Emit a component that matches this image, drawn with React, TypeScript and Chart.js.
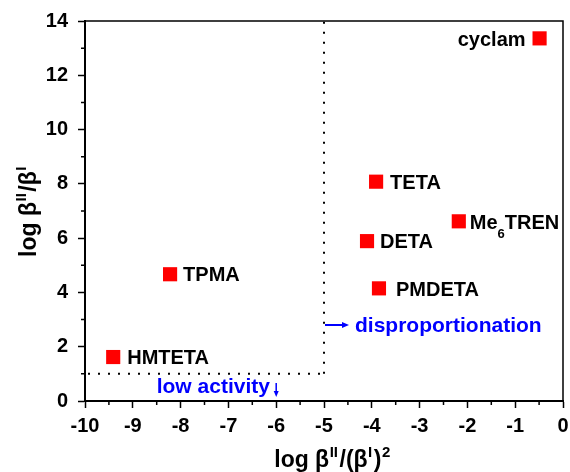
import React, { useEffect, useRef } from 'react';
import { Chart, registerables } from 'chart.js';

Chart.register(...registerables);

// ---- data ----
const ligands = ['cyclam', 'TETA', 'Me6TREN', 'DETA', 'PMDETA', 'TPMA', 'HMTETA'];
const logBetaRatioSq = [-0.49, -3.91, -2.18, -4.1, -3.85, -8.22, -9.41]; // log βII/(βI)^2
const logBetaRatio = [13.36, 8.08, 6.62, 5.89, 4.15, 4.67, 1.62]; // log βII/βI
const labelSide = ['left', 'right', 'right', 'right', 'right', 'right', 'right'];
const labelGap = [14, 14, 11, 13, 17, 13, 14];

const xMin = -10;
const xMax = 0;
const yMin = 0;
const yMax = 14;
const xStep = 1;
const yStep = 2;

const boundaryX = -5; // disproportionation boundary
const boundaryY = 1; // low activity boundary

const FONT = '"Liberation Sans", Arial, Helvetica, sans-serif';

type Piece = { t: string; size: number; dy: number; gap?: number };

function formulaPieces(name: string, size: number): Piece[] {
  const out: Piece[] = [];
  const re = /(\d+)|(\D+)/g;
  let m: RegExpExecArray | null;
  while ((m = re.exec(name))) {
    if (m[1]) out.push({ t: m[1], size: Math.round(size * 0.65), dy: 9 });
    else out.push({ t: m[2], size, dy: 0 });
  }
  return out;
}

function piecesWidth(ctx: CanvasRenderingContext2D, pieces: Piece[]) {
  let w = 0;
  for (const p of pieces) {
    ctx.font = `bold ${p.size}px ${FONT}`;
    w += ctx.measureText(p.t).width + (p.gap || 0);
  }
  return w;
}

function drawPieces(ctx: CanvasRenderingContext2D, pieces: Piece[], x: number, y: number) {
  let cx = x;
  ctx.textAlign = 'left';
  ctx.textBaseline = 'alphabetic';
  for (const p of pieces) {
    ctx.font = `bold ${p.size}px ${FONT}`;
    ctx.fillText(p.t, cx, y + p.dy);
    cx += ctx.measureText(p.t).width + (p.gap || 0);
  }
}

const decorPlugin = {
  id: 'decor',
  afterDraw(chart: any) {
    const { ctx, chartArea: ca, scales } = chart;
    const xs = scales.x;
    const ys = scales.y;
    ctx.save();

    // frame top / right
    ctx.strokeStyle = '#000';
    ctx.lineWidth = 1.5;
    ctx.beginPath();
    ctx.moveTo(ca.left, ca.top);
    ctx.lineTo(ca.right, ca.top);
    ctx.lineTo(ca.right, ca.bottom);
    ctx.stroke();

    // minor ticks
    ctx.lineWidth = 1.5;
    ctx.beginPath();
    for (let v = xMin + xStep / 2; v < xMax; v += xStep) {
      const px = xs.getPixelForValue(v);
      ctx.moveTo(px, ca.bottom);
      ctx.lineTo(px, ca.bottom + 4);
    }
    for (let v = yMin + yStep / 2; v < yMax; v += yStep) {
      const py = ys.getPixelForValue(v);
      ctx.moveTo(ca.left, py);
      ctx.lineTo(ca.left - 4, py);
    }
    ctx.stroke();

    // dotted boundaries
    ctx.setLineDash([2, 8]);
    ctx.lineWidth = 2;
    ctx.beginPath();
    const bx = xs.getPixelForValue(boundaryX);
    const by = ys.getPixelForValue(boundaryY);
    ctx.moveTo(xs.getPixelForValue(xMin) + 3, by);
    ctx.lineTo(bx, by);
    ctx.moveTo(bx, by);
    ctx.lineTo(bx, ca.top - 2);
    ctx.stroke();
    ctx.setLineDash([]);

    // point labels
    ctx.fillStyle = '#000';
    ligands.forEach((name, i) => {
      const px = xs.getPixelForValue(logBetaRatioSq[i]);
      const py = ys.getPixelForValue(logBetaRatio[i]);
      const pieces = formulaPieces(name, 20);
      const w = piecesWidth(ctx, pieces);
      const base = py + 7.2;
      if (labelSide[i] === 'left') drawPieces(ctx, pieces, px - labelGap[i] - w, base);
      else drawPieces(ctx, pieces, px + labelGap[i], base);
    });

    // annotations (blue)
    ctx.fillStyle = '#0000ff';
    ctx.strokeStyle = '#0000ff';
    ctx.lineWidth = 2;
    const ay = ys.getPixelForValue(2.8);
    ctx.beginPath();
    ctx.moveTo(bx + 1, ay);
    ctx.lineTo(bx + 20, ay);
    ctx.stroke();
    ctx.beginPath();
    ctx.moveTo(bx + 25, ay);
    ctx.lineTo(bx + 18, ay - 3);
    ctx.lineTo(bx + 18, ay + 3);
    ctx.closePath();
    ctx.fill();
    drawPieces(ctx, [{ t: 'disproportionation', size: 21, dy: 0 }], bx + 31, ay + 7);

    const lowX = xs.getPixelForValue(-8.5);
    const lowY = ys.getPixelForValue(0.29);
    drawPieces(ctx, [{ t: 'low activity', size: 21, dy: 0 }], lowX, lowY);
    const dx = xs.getPixelForValue(-6);
    const dTop = ys.getPixelForValue(0.66);
    const dBot = ys.getPixelForValue(0.15);
    ctx.lineWidth = 1.5;
    ctx.beginPath();
    ctx.moveTo(dx, dTop);
    ctx.lineTo(dx, dBot - 4);
    ctx.stroke();
    ctx.beginPath();
    ctx.moveTo(dx, dBot);
    ctx.lineTo(dx - 2.5, dBot - 6);
    ctx.lineTo(dx + 2.5, dBot - 6);
    ctx.closePath();
    ctx.fill();

    // axis titles
    ctx.fillStyle = '#000';
    const sup = (t: string): Piece => ({ t, size: 15, dy: -10, gap: 1.5 });
    const xTitle: Piece[] = [
      { t: 'log β', size: 23, dy: 0, gap: 0.5 },
      sup('II'),
      { t: '/(β', size: 23, dy: 0, gap: 0.5 },
      sup('I'),
      { t: ')', size: 23, dy: 0, gap: 0.5 },
      sup('2'),
    ];
    const xw = piecesWidth(ctx, xTitle);
    const xc = (ca.left + ca.right) / 2 + 9;
    drawPieces(ctx, xTitle, xc - xw / 2, 467);

    const yTitle: Piece[] = [
      { t: 'log β', size: 23, dy: 0, gap: 0.5 },
      sup('II'),
      { t: '/β', size: 23, dy: 0, gap: 0.5 },
      sup('I'),
    ];
    const yw = piecesWidth(ctx, yTitle);
    const yc = (ca.top + ca.bottom) / 2;
    ctx.translate(36, yc);
    ctx.rotate(-Math.PI / 2);
    drawPieces(ctx, yTitle, -yw / 2, 0);

    ctx.restore();
  },
};

export default function App() {
  const ref = useRef<HTMLCanvasElement>(null);

  useEffect(() => {
    if (!ref.current) return;
    const points = logBetaRatioSq.map((x, i) => ({ x, y: logBetaRatio[i] }));
    const chart = new Chart(ref.current, {
      type: 'scatter',
      data: {
        datasets: [
          {
            label: 'ligands',
            data: points,
            pointStyle: 'rect',
            pointRadius: 10,
            pointHoverRadius: 10,
            backgroundColor: '#ff0000',
            borderColor: '#ff0000',
            borderWidth: 0,
          },
        ],
      },
      options: {
        responsive: false,
        animation: false,
        events: [],
        layout: { autoPadding: false, padding: { top: 21, right: 7, left: 0, bottom: 0 } },
        plugins: {
          legend: { display: false },
          tooltip: { enabled: false },
        },
        scales: {
          x: {
            type: 'linear',
            min: xMin,
            max: xMax,
            afterFit: (s: any) => {
              s.height = 71;
              s.paddingLeft = 0;
              s.paddingRight = 0;
            },
            ticks: {
              stepSize: xStep,
              padding: 6,
              color: '#000',
              font: { family: FONT, size: 20, weight: 'bold' },
              maxRotation: 0,
              callback: (v: any) => String(v),
            },
            grid: {
              display: true,
              drawOnChartArea: false,
              drawTicks: true,
              tickLength: 7,
              tickWidth: 1.5,
              tickColor: '#000',
              color: '#000',
            },
            border: { display: true, color: '#000', width: 2 },
          },
          y: {
            type: 'linear',
            min: yMin,
            max: yMax,
            afterFit: (s: any) => {
              s.width = 85;
              s.paddingTop = 0;
              s.paddingBottom = 0;
            },
            ticks: {
              stepSize: yStep,
              padding: 10,
              color: '#000',
              font: { family: FONT, size: 20, weight: 'bold' },
              callback: (v: any) => String(v),
            },
            grid: {
              display: true,
              drawOnChartArea: false,
              drawTicks: true,
              tickLength: 7,
              tickWidth: 1.5,
              tickColor: '#000',
              color: '#000',
            },
            border: { display: true, color: '#000', width: 2 },
          },
        },
      },
      plugins: [decorPlugin],
    });
    return () => chart.destroy();
  }, []);

  return (
    <div style={{ position: 'fixed', left: 0, top: 0, width: 570, height: 472, background: '#fff' }}>
      <canvas ref={ref} width={570} height={472} style={{ display: 'block' }} />
    </div>
  );
}
